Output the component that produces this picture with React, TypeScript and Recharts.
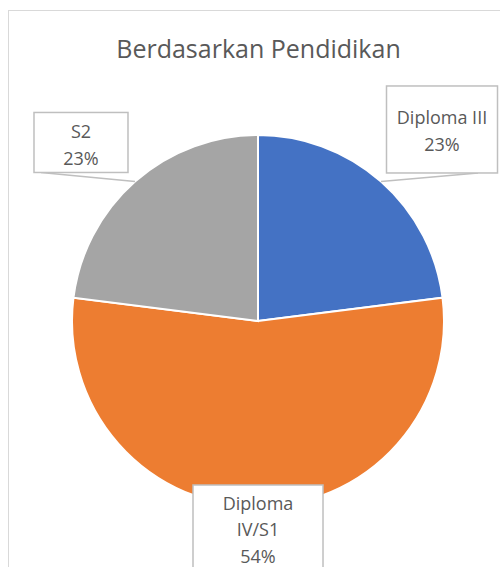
import { PieChart, Pie, Cell } from "recharts";

const categories = ["Diploma III", "Diploma IV/S1", "S2"];
const values = [23, 54, 23];
const labelLines = [["Diploma III"], ["Diploma", "IV/S1"], ["S2"]];
const colors = ["#4472C4", "#ED7D31", "#A5A5A5"];

const data = categories.map((name, i) => ({ name, value: values[i] }));

// callout box placement, relative to the point on the arc at the slice's mid angle
const boxes = [
  { dx: 61, dy: -52, w: 111, h: 87, lx: 36, ty: 1 },
  { dx: 0, dy: 25, w: 130, h: 94, lx: 0, ty: -3 },
  { dx: -54, dy: -39, w: 94, h: 60, lx: -40, ty: 2 },
];

const FONT = "'Open Sans', Lato, sans-serif";
const RAD = Math.PI / 180;

function renderLabel(props: any) {
  const { cx, cy, midAngle, outerRadius, percent, index } = props;
  const ax = cx + outerRadius * Math.cos(-midAngle * RAD);
  const ay = cy + outerRadius * Math.sin(-midAngle * RAD);
  const b = boxes[index];
  const bx = ax + b.dx;
  const by = ay + b.dy;
  const left = bx - b.w / 2;
  const top = by - b.h / 2;
  const lines = [...labelLines[index], `${Math.round(percent * 100)}%`];
  const lh = 26.5;
  const firstY = by - ((lines.length - 1) * lh) / 2 + b.ty;
  return (
    <g>
      {index !== 1 && (
        <line x1={ax} y1={ay} x2={bx + b.lx} y2={top + b.h} stroke="#bfbfbf" strokeWidth={1.5} />
      )}
      <rect x={left} y={top} width={b.w} height={b.h} fill="#ffffff" stroke="#bfbfbf" strokeWidth={1.5} />
      {lines.map((t, i) => (
        <text
          key={i}
          x={bx}
          y={firstY + i * lh}
          textAnchor="middle"
          dominantBaseline="central"
          fill="#595959"
          fontSize={18}
          fontFamily={FONT}
        >
          {t}
        </text>
      ))}
    </g>
  );
}

export default function App() {
  return (
    <div>
      <style>{`body{margin:0;overflow:hidden}`}</style>
      <div
        style={{
          position: "absolute",
          left: 8,
          top: 10,
          width: 520,
          height: 580,
          border: "1px solid #d9d9d9",
          background: "#fff",
        }}
      >
        <div
          style={{
            position: "absolute",
            left: 0,
            top: 20,
            width: 499,
            textAlign: "center",
            fontFamily: FONT,
            fontSize: 25,
            color: "#595959",
          }}
        >
          Berdasarkan Pendidikan
        </div>
        <PieChart width={520} height={580} style={{ position: "absolute", left: 0, top: 0 }}>
          <Pie
            data={data}
            dataKey="value"
            nameKey="name"
            cx={244}
            cy={305}
            outerRadius={186}
            startAngle={90}
            endAngle={-270}
            stroke="#ffffff"
            strokeWidth={2}
            label={renderLabel}
            labelLine={false}
            isAnimationActive={false}
          >
            {data.map((_, i) => (
              <Cell key={i} fill={colors[i]} />
            ))}
          </Pie>
        </PieChart>
      </div>
    </div>
  );
}
